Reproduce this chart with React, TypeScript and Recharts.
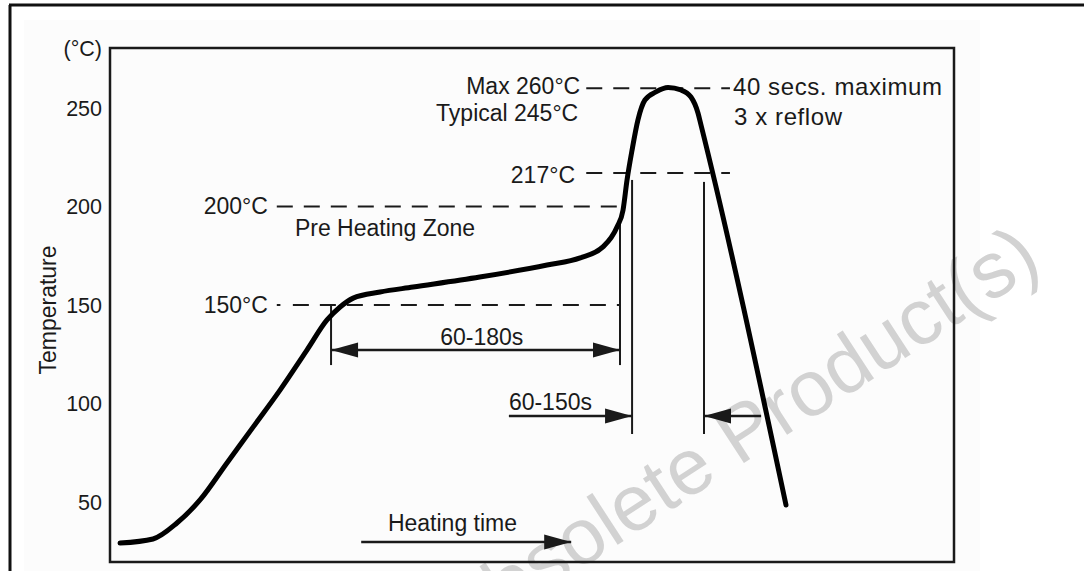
import React from 'react';
import { LineChart, Line, XAxis, YAxis, ReferenceLine, ReferenceDot, ReferenceArea } from 'recharts';

// schematic reflow profile: time in s, temperature in °C
const profileTime = [5, 21.4, 33.3, 44.8, 58.2, 71.2, 84.6, 98, 108, 114.5, 121, 134.4, 150.8, 184, 217.5, 234, 245.3, 252.3, 255.3, 257.3, 259.8, 262.7, 266.2, 271.7, 277.7, 284.1, 289.1, 292.6, 294.1, 336.4];
const profileTemp = [29.1, 31.2, 39.3, 51, 69.8, 88, 106.8, 127.1, 142.4, 149, 153.5, 156.6, 159.1, 164.2, 170.3, 173.9, 179.5, 189.6, 198.2, 213.5, 228.7, 243.9, 254.1, 258.2, 260.4, 259.2, 255.6, 247.5, 241.4, 48.4];

const tempTicks = [50, 100, 150, 200, 250];
const UNIT_TICK = 280.5; // top of the axis carries the (°C) label
const timeDomain = [0, 420];
const tempDomain = [19.5, UNIT_TICK];

// key levels
const MAX_PEAK = 260;
const TYPICAL_PEAK = 245;
const LIQUIDUS = 217;
const PREHEAT_HIGH = 200;
const PREHEAT_LOW = 150;

const data = profileTime.map((t, i) => ({ t, temp: profileTemp[i] }));

const FONT = '"Liberation Sans", Arial, Helvetica, sans-serif';
const INK = '#1a1a1a';
const DASH = '16 11';

const textShape = (label: string, anchor: 'start' | 'middle' | 'end', size = 23, spacing = 0) => (p: any) => (
  <text
    x={p.cx}
    y={p.cy}
    textAnchor={anchor}
    dominantBaseline="central"
    fontFamily={FONT}
    fontSize={size}
    letterSpacing={spacing}
    fill={INK}
  >
    {label}
  </text>
);

const arrowShape = (atStart: boolean, atEnd: boolean) => (p: any) => {
  const { x1, y1, x2, y2 } = p;
  const len = Math.hypot(x2 - x1, y2 - y1) || 1;
  const ux = (x2 - x1) / len;
  const uy = (y2 - y1) / len;
  const L = 27;
  const W = 7.5;
  const head = (px: number, py: number, dir: number) => {
    const bx = px - dir * ux * L;
    const by = py - dir * uy * L;
    return `${px},${py} ${bx - uy * W},${by + ux * W} ${bx + uy * W},${by - ux * W}`;
  };
  return (
    <g>
      <line x1={x1} y1={y1} x2={x2} y2={y2} stroke={INK} strokeWidth={2.5} />
      {atEnd && <polygon points={head(x2, y2, 1)} fill={INK} />}
      {atStart && <polygon points={head(x1, y1, -1)} fill={INK} />}
    </g>
  );
};

export default function App() {
  return (
    <div style={{ position: 'absolute', left: 0, top: 0, width: 1084, height: 571, background: '#fff', overflow: 'hidden' }}>
      <svg width={1084} height={571} style={{ position: 'absolute', left: 0, top: 0 }}>
        <rect x={24} y={20} width={956} height={551} fill="#fcfcfc" />
        <line x1={9} y1={5} x2={1084} y2={5} stroke="#111" strokeWidth={3} />
        <line x1={10} y1={5} x2={10} y2={571} stroke="#111" strokeWidth={3} />
        <text
          x={1044}
          y={268}
          textAnchor="end"
          transform="rotate(-33 1044 268)"
          fontFamily={FONT}
          fontSize={79}
          fill="#d2d2d2"
        >
          Obsolete Product(s)
        </text>
        <text
          x={48}
          y={310}
          textAnchor="middle"
          dominantBaseline="central"
          transform="rotate(-90 48 310)"
          fontFamily={FONT}
          fontSize={23}
          fill={INK}
        >
          Temperature
        </text>
      </svg>

      <div style={{ position: 'absolute', left: 0, top: 0 }}>
        <LineChart width={1084} height={571} data={data} margin={{ top: 48, right: 130, bottom: 9, left: 0 }}>
          <XAxis dataKey="t" type="number" domain={timeDomain} allowDataOverflow hide />
          <YAxis
            type="number"
            domain={tempDomain}
            allowDataOverflow
            ticks={[...tempTicks, UNIT_TICK]}
            interval={0}
            tickFormatter={(v: number) => (v === UNIT_TICK ? '(°C)' : String(v))}
            tickLine={false}
            axisLine={false}
            width={110}
            tick={{ fill: INK, fontSize: 21.5, fontFamily: FONT }}
          />

          {/* plot frame */}
          <ReferenceArea x1={timeDomain[0]} x2={timeDomain[1]} y1={tempDomain[0]} y2={tempDomain[1]} fill="none" fillOpacity={0} stroke={INK} strokeWidth={2.5} />

          {/* dashed temperature levels */}
          <ReferenceLine segment={[{ x: 237, y: MAX_PEAK }, { x: 308.5, y: MAX_PEAK }]} stroke={INK} strokeWidth={2} strokeDasharray={DASH} />
          <ReferenceLine segment={[{ x: 237, y: LIQUIDUS }, { x: 308.5, y: LIQUIDUS }]} stroke={INK} strokeWidth={2} strokeDasharray={DASH} />
          <ReferenceLine segment={[{ x: 83, y: PREHEAT_HIGH }, { x: 253.8, y: PREHEAT_HIGH }]} stroke={INK} strokeWidth={2} strokeDasharray={DASH} />
          <ReferenceLine segment={[{ x: 83, y: PREHEAT_LOW }, { x: 84.8, y: PREHEAT_LOW }]} stroke={INK} strokeWidth={2} />
          <ReferenceLine segment={[{ x: 91, y: PREHEAT_LOW }, { x: 253.8, y: PREHEAT_LOW }]} stroke={INK} strokeWidth={2} strokeDasharray={DASH} />

          {/* vertical markers */}
          <ReferenceLine segment={[{ x: 110, y: PREHEAT_LOW }, { x: 110, y: 119.5 }]} stroke={INK} strokeWidth={2} />
          <ReferenceLine segment={[{ x: 253.8, y: 193 }, { x: 253.8, y: 119.5 }]} stroke={INK} strokeWidth={2} />
          <ReferenceLine segment={[{ x: 259.8, y: 213.5 }, { x: 259.8, y: 84.5 }]} stroke={INK} strokeWidth={2} />
          <ReferenceLine segment={[{ x: 295.6, y: 212.5 }, { x: 295.6, y: 84.5 }]} stroke={INK} strokeWidth={2} />

          {/* arrows */}
          <ReferenceLine segment={[{ x: 110, y: 127.1 }, { x: 253.8, y: 127.1 }]} shape={arrowShape(true, true)} />
          <ReferenceLine segment={[{ x: 198.5, y: 93.6 }, { x: 259.8, y: 93.6 }]} shape={arrowShape(false, true)} />
          <ReferenceLine segment={[{ x: 324, y: 93.6 }, { x: 295.6, y: 93.6 }]} shape={arrowShape(false, true)} />
          <ReferenceLine segment={[{ x: 125, y: 29.6 }, { x: 229.5, y: 29.6 }]} shape={arrowShape(false, true)} />

          {/* annotations */}
          <ReferenceDot x={234} y={MAX_PEAK + 1} r={0} shape={textShape('Max 260°C', 'end')} />
          <ReferenceDot x={233} y={TYPICAL_PEAK + 2.5} r={0} shape={textShape('Typical 245°C', 'end')} />
          <ReferenceDot x={310} y={MAX_PEAK + 1} r={0} shape={textShape('40 secs. maximum', 'start', 24, 0.6)} />
          <ReferenceDot x={310.5} y={TYPICAL_PEAK + 0.5} r={0} shape={textShape('3 x reflow', 'start', 24, 0.6)} />
          <ReferenceDot x={231.4} y={LIQUIDUS - 1} r={0} shape={textShape('217°C', 'end')} />
          <ReferenceDot x={78.6} y={PREHEAT_HIGH + 0.5} r={0} shape={textShape('200°C', 'end')} />
          <ReferenceDot x={92} y={189.1} r={0} shape={textShape('Pre Heating Zone', 'start')} />
          <ReferenceDot x={78.6} y={PREHEAT_LOW} r={0} shape={textShape('150°C', 'end')} />
          <ReferenceDot x={185} y={133.7} r={0} shape={textShape('60-180s', 'middle')} />
          <ReferenceDot x={198.5} y={100.7} r={0} shape={textShape('60-150s', 'start')} />
          <ReferenceDot x={138.3} y={39.3} r={0} shape={textShape('Heating time', 'start')} />

          <Line
            dataKey="temp"
            type="monotone"
            stroke="#000"
            strokeWidth={5}
            strokeLinecap="round"
            strokeLinejoin="round"
            dot={false}
            activeDot={false}
            isAnimationActive={false}
          />
        </LineChart>
      </div>
    </div>
  );
}
